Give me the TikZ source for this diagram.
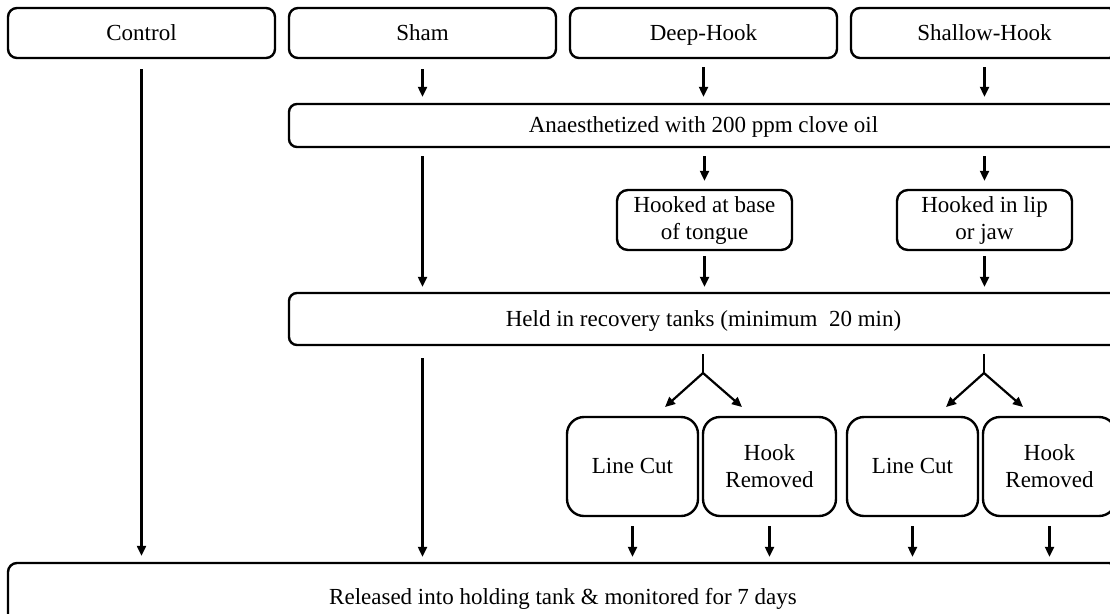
\documentclass[tikz,border=0pt]{standalone}
\usepackage{fontspec}
\setmainfont{Liberation Serif}
\usetikzlibrary{arrows.meta,calc}
\tikzset{
  box/.style={draw=black, line width=2.4pt, rounded corners=9pt, align=center,
    inner sep=0pt, font=\fontsize{23}{27}\selectfont},
  oneline/.style={text height=15pt, text depth=1pt},
  bigbox/.style={box, oneline, minimum width=267pt, minimum height=50pt},
  arr/.style={line width=2.2pt, -{Triangle[length=10pt,width=9pt]}},
  plain/.style={line width=2.2pt}
}
\begin{document}
\begin{tikzpicture}[x=1pt,y=-1pt]
\useasboundingbox (0,0) rectangle (1110,613);
\clip (0,0) rectangle (1110,613);
\fill[white] (0,0) rectangle (1110,613);
% top row
\node[bigbox] (control) at (141.5,33) {Control};
\node[bigbox] (sham) at (422.5,33) {Sham};
\node[bigbox] (deep) at (703.5,33) {Deep-Hook};
\node[bigbox] (shallow) at (984.5,33) {Shallow-Hook};
% wide boxes
\node[box, oneline, minimum width=829pt, minimum height=43pt, rounded corners=8pt] (anaes) at (703.5,125.5) {Anaesthetized with 200 ppm clove oil};
\node[box, minimum width=175pt, minimum height=60pt, rounded corners=11pt] (hookdeep) at (704.5,220) {Hooked at base\\of tongue};
\node[box, minimum width=175pt, minimum height=60pt, rounded corners=11pt] (hookshallow) at (984.5,220) {Hooked in lip\\or jaw};
\node[box, oneline, minimum width=829pt, minimum height=52pt, rounded corners=8pt] (held) at (703.5,319) {Held in recovery tanks (minimum\ \ 20 min)};
% outcome boxes
\node[box, oneline, minimum width=131pt, minimum height=99pt, rounded corners=17pt] (lc1) at (632.5,466.5) {Line Cut};
\node[box, minimum width=133pt, minimum height=99pt, rounded corners=17pt] (hr1) at (769.5,466.5) {Hook\\Removed};
\node[box, oneline, minimum width=131pt, minimum height=99pt, rounded corners=17pt] (lc2) at (912.5,466.5) {Line Cut};
\node[box, minimum width=133pt, minimum height=99pt, rounded corners=17pt] (hr2) at (1049.5,466.5) {Hook\\Removed};
% bottom box
\node[box, oneline, minimum width=1110pt, minimum height=69pt, rounded corners=9pt] (rel) at (563,597.5) {Released into holding tank \& monitored for 7 days};
% arrows from top row
\draw[arr, shorten <=10pt, shorten >=6pt] (control.south) -- (control.south |- rel.north);
\draw[arr, shorten <=10pt, shorten >=6pt] (sham.south) -- (sham.south |- anaes.north);
\draw[arr, shorten <=8pt, shorten >=6pt] (deep.south) -- (deep.south |- anaes.north);
\draw[arr, shorten <=8pt, shorten >=6pt] (shallow.south) -- (shallow.south |- anaes.north);
% below anaesthetized
\draw[arr, shorten <=8pt, shorten >=5pt] (sham.south |- anaes.south) -- (sham.south |- held.north);
\draw[arr, shorten <=8pt, shorten >=8pt] (hookdeep.north |- anaes.south) -- (hookdeep.north);
\draw[arr, shorten <=8pt, shorten >=8pt] (hookshallow.north |- anaes.south) -- (hookshallow.north);
\draw[arr, shorten <=5pt, shorten >=5pt] (hookdeep.south) -- (hookdeep.south |- held.north);
\draw[arr, shorten <=5pt, shorten >=5pt] (hookshallow.south) -- (hookshallow.south |- held.north);
% below held
\draw[arr, shorten <=12pt, shorten >=5pt] (sham.south |- held.south) -- (sham.south |- rel.north);
\coordinate (f1) at (703,373);
\coordinate (f1a) at (665,407);
\coordinate (f1b) at (742,407);
\coordinate (f2) at (984,373);
\coordinate (f2a) at (946,407);
\coordinate (f2b) at (1023,407);
\draw[plain, shorten <=8pt] (held.south -| f1) -- (f1);
\draw[arr] (f1) -- (f1a);
\draw[arr] (f1) -- (f1b);
\draw[plain, shorten <=8pt] (held.south -| f2) -- (f2);
\draw[arr] (f2) -- (f2a);
\draw[arr] (f2) -- (f2b);
% into released
\foreach \n in {lc1,hr1,lc2,hr2}{
  \draw[arr, shorten <=9pt, shorten >=5pt] (\n.south) -- (\n.south |- rel.north);
}
\end{tikzpicture}
\end{document}
